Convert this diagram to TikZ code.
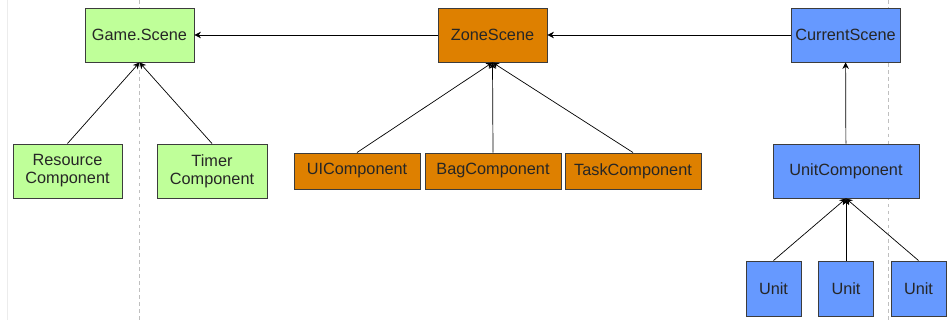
\documentclass[tikz,border=0pt]{standalone}
\usepackage{fontspec}
\setmainfont{Liberation Sans}
\usetikzlibrary{arrows.meta,positioning}
\definecolor{gamefill} {RGB}{191,255,153}
\definecolor{zonefill} {RGB}{222,128,  0}
\definecolor{unitfill} {RGB}{102,153,255}
\definecolor{boxline}  {RGB}{ 60, 60, 60}
\tikzset{
  blk/.style  ={rectangle,draw=boxline,line width=0.8pt,
                 minimum width=3.27cm,minimum height=1.62cm,
                 align=center,inner sep=2pt,text=black!85,
                 font=\fontsize{13.9}{15.5}\selectfont},
  gblk/.style ={blk,fill=gamefill},
  zblk/.style ={blk,fill=zonefill,minimum height=1.08cm},
  ublk/.style ={blk,fill=unitfill},
  sig/.style  ={-{Stealth[length=5.5pt,width=5.5pt]},line width=0.6pt},
  guide/.style={gray!50,dashed,line width=0.5pt},
}

\begin{document}
\begin{tikzpicture}[x=0.03cm,y=-0.03cm]
  \useasboundingbox (0,0) rectangle (950,320);
  % page guides
  \draw[gray!15,line width=0.6pt] (7,0) -- (7,320);
  \draw[guide] (139.5,0) -- (139.5,320);
  \draw[guide] (888,0) -- (888,320);

  % scenes
  \node[gblk]                         (game) at (139.5,35) {Game.Scene};
  \node[zblk,minimum height=1.62cm]   (zone) at (492.5,35) {ZoneScene};
  \node[ublk]                         (cur)  at (845.5,35) {CurrentScene};

  % components
  \node[gblk]                         (res)   at (67.5,171) {Resource\\Component};
  \node[gblk,minimum width=3.3cm]     (timer) at (212,171)  {Timer\\Component};
  \node[zblk,minimum width=3.78cm]    (ui)    at (357,171)  {UIComponent};
  \node[zblk,minimum width=4.08cm]    (bag)   at (493,171)  {BagComponent};
  \node[zblk,minimum width=4.08cm]    (task)  at (633,171)  {TaskComponent};
  \node[ublk,minimum width=4.38cm]    (ucomp) at (846,171)  {UnitComponent};

  % units
  \node[ublk,minimum width=1.65cm,minimum height=1.65cm] (u1) at (773.5,288.5) {Unit};
  \node[ublk,minimum width=1.65cm,minimum height=1.65cm] (u2) at (846,288.5)   {Unit};
  \node[ublk,minimum width=1.65cm,minimum height=1.65cm] (u3) at (918.5,288.5) {Unit};

  \draw[sig] (zone) -- (game);
  \draw[sig] (cur)  -- (zone);
  \draw[sig] (res.north)   -- (game.south);
  \draw[sig] (timer.north) -- (game.south);
  \draw[sig] (ui.north)    -- (zone.south);
  \draw[sig] (bag.north)   -- (zone.south);
  \draw[sig] (task.north)  -- (zone.south);
  \draw[sig] (ucomp) -- (cur);
  \draw[sig] (u1.north) -- (ucomp.south);
  \draw[sig] (u2.north) -- (ucomp.south);
  \draw[sig] (u3.north) -- (ucomp.south);
\end{tikzpicture}
\end{document}
